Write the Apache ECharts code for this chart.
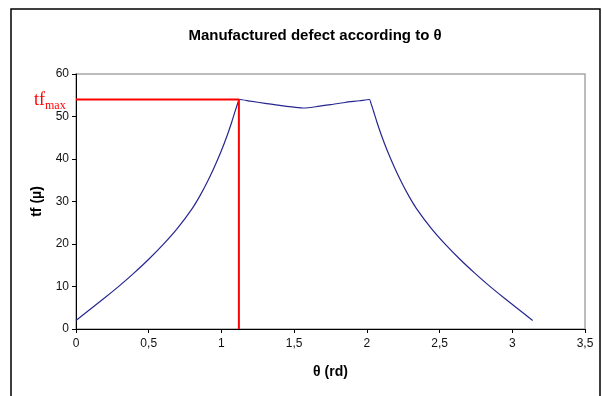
<!DOCTYPE html>
<html>
<head>
<meta charset="utf-8">
<script src="https://cdn.jsdelivr.net/npm/echarts@6/dist/echarts.min.js"></script>
<style>
  html, body { margin: 0; padding: 0; background: #fff; }
  #main { width: 602px; height: 396px; }
</style>
</head>
<body>
<div id="main"></div>
<script>
const theta = [0, 0.1, 0.2, 0.3, 0.4, 0.5, 0.6, 0.7, 0.8, 0.85, 0.9, 0.95, 1.0, 1.04, 1.07, 1.09, 1.11, 1.125,
  1.2, 1.3, 1.4, 1.5, 1.57, 1.65, 1.75, 1.85, 1.95, 2.017,
  2.03, 2.05, 2.07, 2.10, 2.14, 2.19, 2.24, 2.29, 2.34, 2.44, 2.54, 2.64, 2.74, 2.84, 2.94, 3.04, 3.14];
const tf = [2, 4.7, 7.4, 10.2, 13.2, 16.4, 19.9, 23.8, 28.4, 31.2, 34.4, 38.0, 42.0, 45.6, 48.6, 50.8, 52.9, 54.0,
  53.6, 53.1, 52.6, 52.2, 52.0, 52.3, 52.8, 53.3, 53.7, 54.0,
  52.9, 50.8, 48.6, 45.6, 42.0, 38.0, 34.4, 31.2, 28.4, 23.8, 19.9, 16.4, 13.2, 10.2, 7.4, 4.7, 2.0];

// tf max marker
const tfMax = 54;
const thetaAtMax = 1.12;

const xTickLabels = ['0', '0,5', '1', '1,5', '2', '2,5', '3', '3,5'];
const yTickLabels = ['0', '10', '20', '30', '40', '50', '60'];

const curve = theta.map((t, i) => [t, tf[i]]);
const maxLines = [[0, tfMax], [thetaAtMax, tfMax], [thetaAtMax, 0]];

const chart = echarts.init(document.getElementById('main'));
const font = 'Liberation Sans, Arial, sans-serif';
const serif = 'Liberation Serif, Times New Roman, serif';

chart.setOption({
  animation: false,
  backgroundColor: '#fff',
  title: {
    text: 'Manufactured defect according to θ',
    left: 310,
    top: 23,
    textAlign: 'center',
    textStyle: { fontFamily: font, fontSize: 15, fontWeight: 'bold', color: '#000' }
  },
  grid: {
    left: 76, right: 17, top: 74, bottom: 67,
    show: true, borderColor: '#a6a6a6', borderWidth: 1.5, backgroundColor: '#fff'
  },
  xAxis: {
    type: 'value', min: 0, max: 3.5, interval: 0.5,
    name: 'θ (rd)', nameLocation: 'middle', nameGap: 36,
    nameTextStyle: { fontFamily: font, fontSize: 14, fontWeight: 'bold', color: '#000' },
    axisLine: { onZero: false, lineStyle: { color: '#000', width: 1 } },
    axisTick: { show: true, length: 4, lineStyle: { color: '#000' } },
    splitLine: { show: false },
    axisLabel: {
      margin: 9, fontFamily: font, fontSize: 12, color: '#111',
      formatter: v => xTickLabels[Math.round(v / 0.5)]
    }
  },
  yAxis: {
    type: 'value', min: 0, max: 60, interval: 10,
    name: 'tf (µ)', nameLocation: 'middle', nameGap: 32, nameRotate: 90,
    nameTextStyle: { fontFamily: font, fontSize: 14, fontWeight: 'bold', color: '#000' },
    axisLine: { show: true, onZero: false, lineStyle: { color: '#000', width: 1 } },
    axisTick: { show: true, length: 4, lineStyle: { color: '#000' } },
    splitLine: { show: false },
    axisLabel: {
      margin: 7, fontFamily: font, fontSize: 12, color: '#111',
      formatter: v => yTickLabels[Math.round(v / 10)]
    }
  },
  series: [
    {
      type: 'line', data: curve, showSymbol: false, smooth: 0.25,
      lineStyle: { color: '#262690', width: 1.2 }, z: 3
    },
    {
      type: 'line', data: maxLines, showSymbol: false,
      lineStyle: { color: '#ff0000', width: 2 }, z: 4
    }
  ]
});

// outer frame + tf_max label placed at the tfMax level
const yMax = chart.convertToPixel({ gridIndex: 0 }, [0, tfMax])[1];
chart.setOption({
  graphic: [
    {
      type: 'rect', shape: { x: 11, y: 9, width: 589, height: 400 },
      style: { fill: 'none', stroke: '#000', lineWidth: 1.5 }, silent: true, z: 0
    },
    {
      type: 'text', x: 45, y: yMax + 1,
      style: { text: 'tf', align: 'right', verticalAlign: 'middle', font: '18px ' + serif, fill: '#ff0000' }
    },
    {
      type: 'text', x: 45, y: yMax + 6,
      style: { text: 'max', align: 'left', verticalAlign: 'middle', font: '12px ' + serif, fill: '#ff0000' }
    }
  ]
});
</script>
</body>
</html>
